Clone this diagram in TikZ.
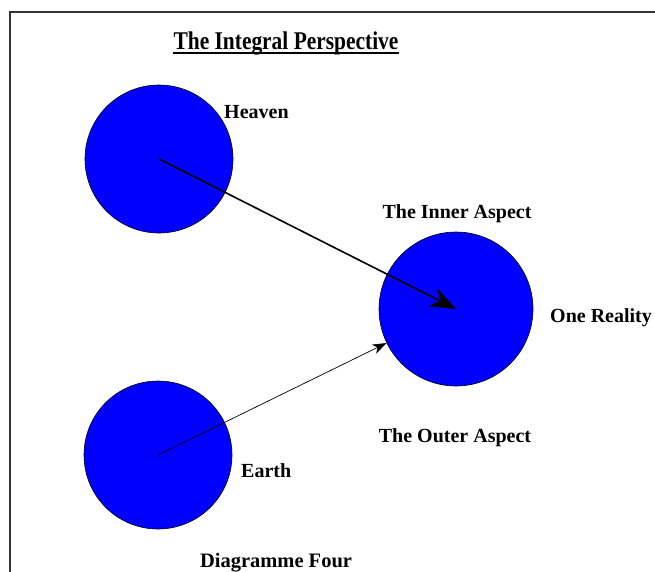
\documentclass[tikz,border=0pt]{standalone}
\usepackage{fontspec}
\setmainfont{Liberation Serif}
\usetikzlibrary{arrows.meta}
\definecolor{orbblue}{HTML}{0000FF}

\tikzset{
  orb/.style={circle, draw=black, line width=0.6pt, fill=orbblue, inner sep=0pt},
  tag/.style={inner sep=0pt, font=\bfseries\fontsize{20}{24}\selectfont},
}

\begin{document}
\begin{tikzpicture}[x=1pt, y=-1pt]
    \useasboundingbox (0,0) rectangle (655,571);
    \clip (0,0) rectangle (655,571);
    % frame running off the page
    \draw[line width=1.5pt, black!80] (10,12) rectangle (700,620);

    % title
    \node[inner sep=0pt, anchor=base, transform shape, xscale=0.84,
          font=\bfseries\fontsize{25.5}{30}\selectfont] (title) at (286,49)
          {The Integral Perspective};
    \draw[line width=1.7pt] ([yshift=-4pt]title.base west) -- ([yshift=-4pt]title.base east);

    % spheres
    \node[orb, minimum size=148pt] (heaven)  at (159,159) {};
    \node[orb, minimum size=154pt] (reality) at (456,309) {};
    \node[orb, minimum size=148pt] (earth)   at (158,455) {};

    % labels
    \node[tag, anchor=base west] (heavenlbl) at (224,118) {Heaven};
    \node[tag, anchor=base] (innerlbl) at (457,218) {The Inner Aspect};
    \node[tag, anchor=base west] (onelbl) at (550,322) {One Reality};
    \node[tag, anchor=base] (outerlbl) at (455,442) {The Outer Aspect};
    \node[tag, anchor=base west] (earthlbl) at (241,477) {Earth};

    % arrows
    \draw[line width=1.6pt, -{Stealth[length=26pt, width=20pt, inset=8pt]}]
      (heaven.center) -- (reality.center);
    \draw[line width=0.7pt, -{Stealth[length=14pt, width=10pt, inset=4pt]}]
      (earth.center) -- (reality);

    % caption
    \node[inner sep=0pt, anchor=base, font=\bfseries\fontsize{20.5}{24}\selectfont]
      (caption) at (276,567) {Diagramme Four};
\end{tikzpicture}
\end{document}
